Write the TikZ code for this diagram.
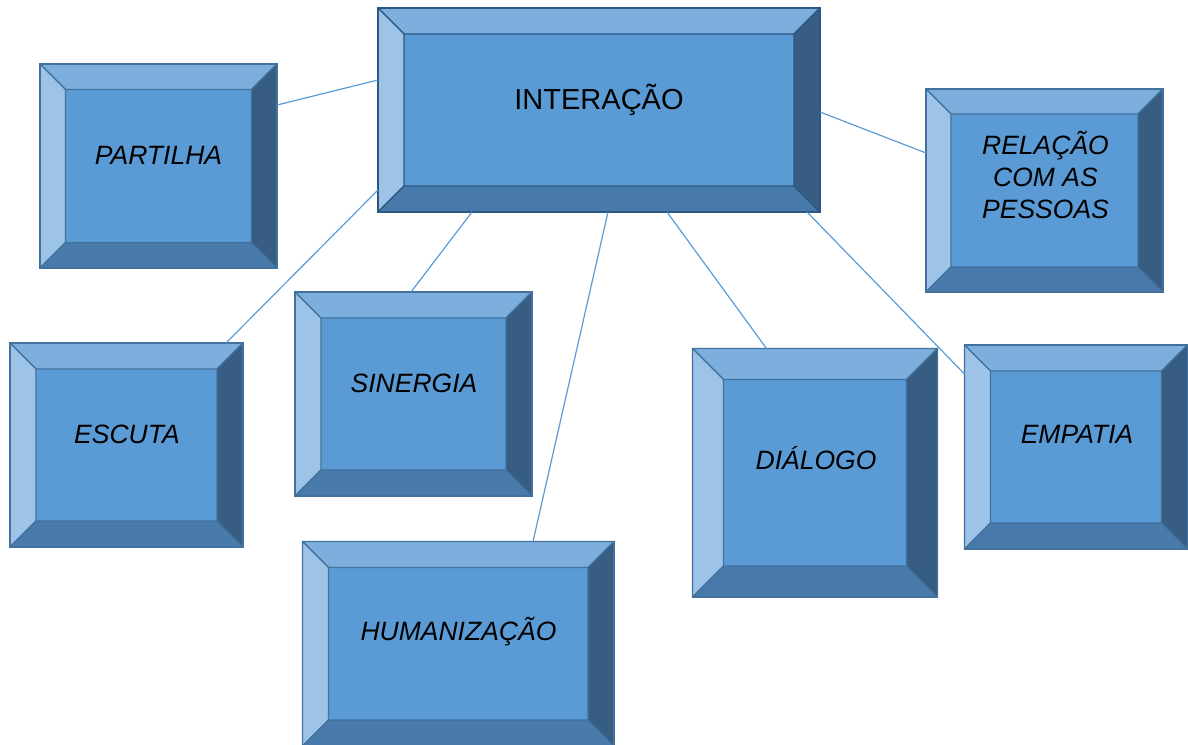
\documentclass[tikz,border=0pt]{standalone}
\usepackage{fontspec}
\setmainfont{Liberation Sans}
\usetikzlibrary{calc}
\definecolor{fcenter}{HTML}{5B9BD5}
\definecolor{ftop}{HTML}{7DAFDE}
\definecolor{fleft}{HTML}{9DC3E6}
\definecolor{fbottom}{HTML}{487BAB}
\definecolor{fright}{HTML}{385D82}
\definecolor{bline}{HTML}{41719C}
\definecolor{bdark}{HTML}{2A5783}
\definecolor{conn}{HTML}{5B9BD5}
\tikzset{
  bx/.style={inner sep=0pt, outer sep=0pt},
  lbl/.style={anchor=base, inner sep=0pt, font=\fontsize{26.5}{32}\selectfont\itshape, align=center},
  mainlbl/.style={anchor=base, inner sep=0pt, font=\fontsize{29}{34}\selectfont},
  link/.style={draw=conn, line width=1.2pt},
}
\newcommand\bevelfill[3]{%
  \path (#1.north west) coordinate (o1) (#1.north east) coordinate (o2)
        (#1.south east) coordinate (o3) (#1.south west) coordinate (o4);
  \path ($(o1)+(#2,#2)$) coordinate (i1) ($(o2)+(-#2,#2)$) coordinate (i2)
        ($(o3)+(-#2,-#2)$) coordinate (i3) ($(o4)+(#2,-#2)$) coordinate (i4);
  \fill[fcenter] (i1) rectangle (i3);
  \filldraw[fill=ftop, draw=#3, line width=1.2pt, line join=round] (o1)--(o2)--(i2)--(i1)--cycle;
  \filldraw[fill=fleft, draw=#3, line width=1.2pt, line join=round] (o1)--(i1)--(i4)--(o4)--cycle;
  \filldraw[fill=fbottom, draw=#3, line width=1.2pt, line join=round] (o4)--(i4)--(i3)--(o3)--cycle;
  \filldraw[fill=fright, draw=#3, line width=1.2pt, line join=round] (o2)--(o3)--(i3)--(i2)--cycle;
  \draw[#3, line width=1.8pt] (o1) rectangle (o3);
}
\begin{document}
\begin{tikzpicture}[x=1pt,y=-1pt]
\useasboundingbox (0,0) rectangle (1188,744);
% box frames (named nodes)
\node[bx, minimum width=442pt, minimum height=204pt] (int) at (599,110) {};
\node[bx, minimum width=237pt, minimum height=204pt] (par) at (158.5,166) {};
\node[bx, minimum width=237pt, minimum height=203pt] (rel) at (1044.5,190.5) {};
\node[bx, minimum width=233pt, minimum height=204pt] (esc) at (126.5,445) {};
\node[bx, minimum width=237pt, minimum height=204pt] (sin) at (413.5,394) {};
\node[bx, minimum width=311.5pt, minimum height=204.5pt] (hum) at (458.25,643.75) {};
\node[bx, minimum width=245pt, minimum height=248.5pt] (dia) at (815,472.75) {};
\node[bx, minimum width=223pt, minimum height=204pt] (emp) at (1076,447) {};
% bevels
\bevelfill{int}{26}{bdark}
\bevelfill{par}{25.5}{bline}
\bevelfill{rel}{25}{bline}
\bevelfill{esc}{26}{bline}
\bevelfill{sin}{26}{bline}
\bevelfill{hum}{26}{bline}
\bevelfill{dia}{31}{bline}
\bevelfill{emp}{26}{bline}
% labels
\node[mainlbl] (int-t) at (599,109.3) {INTERAÇÃO};
\node[lbl] (par-t) at (158.5,164.3) {PARTILHA};
\node[lbl, anchor=north] (rel-t) at (1045.5,131) {RELAÇÃO\\COM AS\\PESSOAS};
\node[lbl] (esc-t) at (127,443) {ESCUTA};
\node[lbl] (sin-t) at (414,392) {SINERGIA};
\node[lbl] (hum-t) at (458.5,640) {HUMANIZAÇÃO};
\node[lbl] (dia-t) at (816,469.3) {DIÁLOGO};
\node[lbl] (emp-t) at (1077,443.3) {EMPATIA};
% connectors
\draw[link] ($(int.north west)+(0,72)$) -- ($(par.north east)+(0,41)$);
\draw[link] ($(int.north west)+(0,182)$) -- ($(esc.north east)+(-17,0)$);
\draw[link] ($(int.south west)+(94,0)$) -- ($(sin.north west)+(116,0)$);
\draw[link] ($(int.south west)+(230,0)$) -- ($(hum.north west)+(230.5,0)$);
\draw[link] ($(int.south west)+(289,0)$) -- ($(dia.north west)+(74,0)$);
\draw[link] ($(int.south west)+(429,0)$) -- ($(emp.north west)+(0,29)$);
\draw[link] ($(int.north east)+(0,104)$) -- ($(rel.north west)+(0,64)$);
\end{tikzpicture}
\end{document}
